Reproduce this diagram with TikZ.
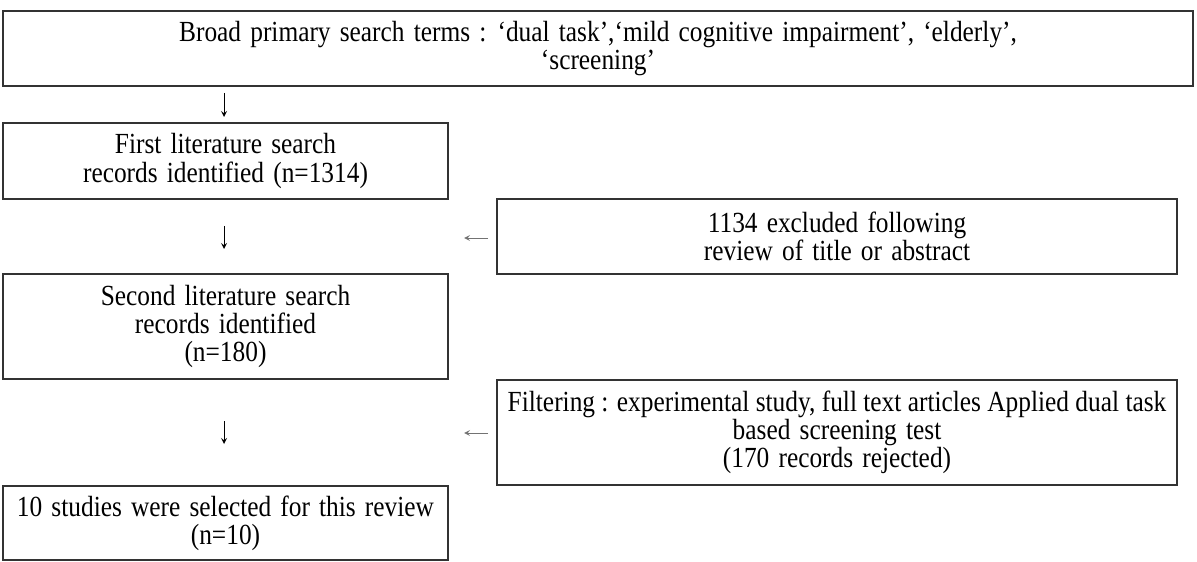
\documentclass[tikz,border=0pt]{standalone}
\usepackage{fontspec}
\setmainfont{Liberation Serif}[FakeStretch=0.87]
\usepackage{tikz}

\newcommand{\flowfont}{\fontsize{16.6}{16}\selectfont\lineskiplimit=-8pt\spaceskip=5.2pt plus 1pt\relax}

\tikzset{
    flowbox/.style={draw=black!80, line width=0.6pt, align=center, inner sep=0pt,
        font=\flowfont},
    wide/.style={flowbox, minimum width=13.6cm},
    narrow/.style={flowbox, minimum width=8.9cm},
    flowarrow/.style={->, >=stealth, line width=0.5pt}
}

\begin{document}
\begin{tikzpicture}
    \useasboundingbox (0,0) rectangle (23.94,-11.24);
    % boxes of the left column
    \node[flowbox, minimum width=23.8cm, minimum height=1.5cm] (terms) at (11.96,-0.97)
        {Broad primary search terms : `dual task',`mild cognitive impairment', `elderly',\\ `screening'};
    \node[narrow, minimum height=1.52cm] (first) at (4.51,-3.22)
        {First literature search\\ records identified (n=1314)};
    \node[narrow, minimum height=2.1cm] (second) at (4.51,-6.53)
        {Second literature search\\ records identified\\ (n=180)};
    \node[narrow, minimum height=1.48cm] (final) at (4.51,-10.46)
        {10 studies were selected for this review\\ (n=10)};
    % boxes of the right column
    \node[wide, minimum height=1.5cm] (excl) at (16.74,-4.73)
        {1134 excluded following\\ review of title or abstract};
    \node[wide, minimum height=2.1cm] (filter) at (16.74,-8.65)
        {{\spaceskip=3.6pt\relax Filtering : experimental study, full text articles Applied dual task}\\ based screening test\\ (170 records rejected)};
    % arrows
    \coordinate (d1a) at (4.48,-1.86);
    \coordinate (d1b) at (4.48,-2.34);
    \coordinate (d2a) at (4.48,-4.52);
    \coordinate (d2b) at (4.48,-4.98);
    \coordinate (d3a) at (4.48,-8.42);
    \coordinate (d3b) at (4.48,-8.88);
    \coordinate (l1a) at (9.76,-4.76);
    \coordinate (l1b) at (9.28,-4.76);
    \coordinate (l2a) at (9.76,-8.66);
    \coordinate (l2b) at (9.28,-8.66);
    \draw[flowarrow] (d1a) -- (d1b);
    \draw[flowarrow] (d2a) -- (d2b);
    \draw[flowarrow] (d3a) -- (d3b);
    \draw[flowarrow, draw=black!55] (l1a) -- (l1b);
    \draw[flowarrow, draw=black!55] (l2a) -- (l2b);
\end{tikzpicture}
\end{document}
